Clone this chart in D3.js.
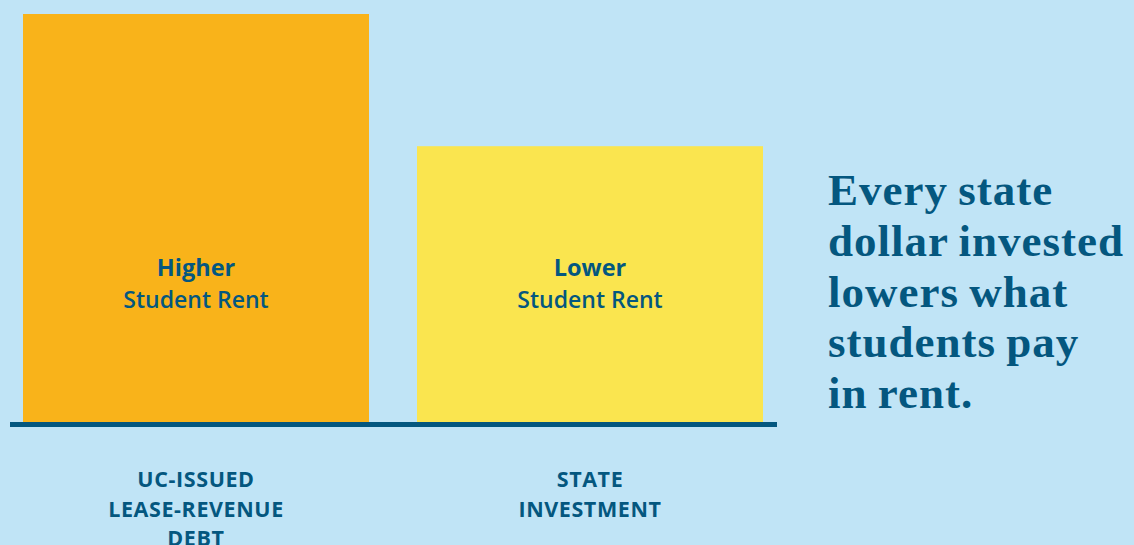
<!DOCTYPE html>
<html>
<head>
<meta charset="utf-8">
<script src="https://cdn.jsdelivr.net/npm/d3@7"></script>
<style>
  html, body { margin: 0; padding: 0; background: #c0e4f6; }
  svg { display: block; }
</style>
</head>
<body>
<div id="svg_container"></div>
<script>
/* -----------------------
data
------------------------- */

var categories = ["UC-ISSUED|LEASE-REVENUE|DEBT", "STATE|INVESTMENT"];
var values = [100, 67.6];
var barLabelTop = ["Higher", "Lower"];
var barLabelBottom = ["Student Rent", "Student Rent"];
var headline = ["Every state", "dollar invested", "lowers what", "students pay", "in rent."];

/* -----------------------
main variables
------------------------- */

var width = 1134,
    height = 545;

var navy = "#04577f",
    colors = ["#f9b31a", "#fae54f"];

var svg = d3.select("#svg_container")
    .append("svg")
    .attr("width", width)
    .attr("height", height);

svg.append("rect")
    .attr("width", width)
    .attr("height", height)
    .attr("fill", "#c0e4f6");

var x = d3.scaleBand()
    .domain(categories)
    .range([23, 763])
    .paddingInner(48 / 394)
    .paddingOuter(0);

var y = d3.scaleLinear()
    .domain([0, 100])
    .range([422, 14]);

/* -----------------------
bars
------------------------- */

svg.selectAll(".bar")
    .data(values)
    .enter()
    .append("rect")
    .attr("class", "bar")
    .attr("x", function(d, i) { return x(categories[i]); })
    .attr("y", function(d) { return y(d); })
    .attr("width", x.bandwidth())
    .attr("height", function(d) { return y(0) - y(d); })
    .attr("fill", function(d, i) { return colors[i]; });

// labels inside bars
var inLabel = svg.selectAll(".inlabel")
    .data(values)
    .enter()
    .append("text")
    .attr("class", "inlabel")
    .attr("text-anchor", "middle")
    .attr("font-family", "'Open Sans', sans-serif")
    .attr("fill", navy);

inLabel.append("tspan")
    .attr("x", function(d, i) { return x(categories[i]) + x.bandwidth() / 2; })
    .attr("y", 276)
    .attr("font-weight", "bold")
    .attr("font-size", "23.5px")
    .text(function(d, i) { return barLabelTop[i]; });

inLabel.append("tspan")
    .attr("x", function(d, i) { return x(categories[i]) + x.bandwidth() / 2; })
    .attr("y", 308)
    .attr("font-weight", 600)
    .attr("font-size", "23px")
    .text(function(d, i) { return barLabelBottom[i]; });

/* -----------------------
baseline + category axis
------------------------- */

svg.append("line")
    .attr("x1", 10)
    .attr("x2", 777)
    .attr("y1", y(0) + 2.5)
    .attr("y2", y(0) + 2.5)
    .attr("stroke", navy)
    .attr("stroke-width", 5);

var cat = svg.selectAll(".cat")
    .data(categories)
    .enter()
    .append("text")
    .attr("class", "cat")
    .attr("text-anchor", "middle")
    .attr("font-family", "'Open Sans', sans-serif")
    .attr("font-weight", "bold")
    .attr("font-size", "21.5px")
    .attr("letter-spacing", "0.6px")
    .attr("fill", navy);

cat.selectAll("tspan")
    .data(function(d) { return d.split("|").map(function(t) { return {t: t, c: d}; }); })
    .enter()
    .append("tspan")
    .attr("x", function(d) { return x(d.c) + x.bandwidth() / 2; })
    .attr("y", function(d, i) { return 487 + i * 29.5; })
    .text(function(d) { return d.t; });

/* -----------------------
headline
------------------------- */

svg.append("text")
    .attr("font-family", "'Liberation Serif', serif")
    .attr("font-weight", "bold")
    .attr("font-size", "45px")
    .attr("letter-spacing", "1px")
    .attr("word-spacing", "-2px")
    .attr("fill", navy)
    .selectAll("tspan")
    .data(headline)
    .enter()
    .append("tspan")
    .attr("x", 828)
    .attr("y", function(d, i) { return 205 + i * 50.75; })
    .text(function(d) { return d; });
</script>
</body>
</html>
